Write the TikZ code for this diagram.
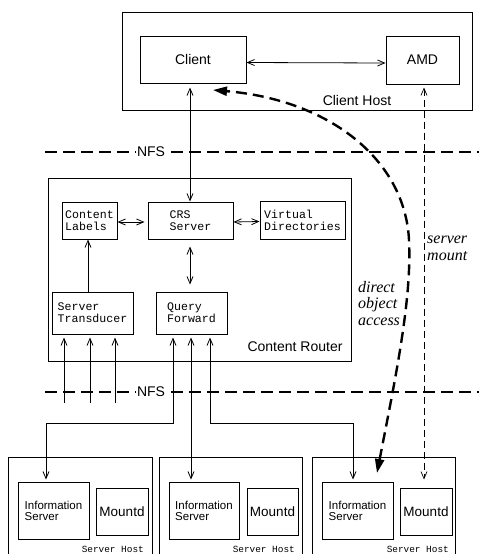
\documentclass[tikz,border=0pt]{standalone}
\usepackage{fontspec}
\setmainfont{Liberation Sans}
\setmonofont{Liberation Mono}
\newfontfamily\tmsfont{Liberation Serif}
\usetikzlibrary{arrows.meta}

\begin{document}
\begin{tikzpicture}[x=1pt,y=-1pt,
  >={Straight Barb[length=7pt,width=6pt]},
  hostbox/.style={draw, line width=0.8pt, inner sep=0pt},
  box/.style={draw, line width=1pt, inner sep=0pt, align=left},
  sbox/.style={box, font=\fontsize{14}{15}\selectfont},
  ibox/.style={box, font=\fontsize{11.5}{11}\selectfont},
  mbox/.style={box, font=\fontsize{11.6}{12}\selectfont\ttfamily},
  lbl/.style={inner sep=0pt, font=\fontsize{14}{15}\selectfont},
  shl/.style={inner sep=0pt, anchor=east, font=\fontsize{9.4}{10}\selectfont\ttfamily},
  ital/.style={inner sep=0pt, anchor=west, align=left, font=\fontsize{16}{16.5}\selectfont\tmsfont\itshape},
  arr/.style={line width=0.8pt},
  nfs/.style={line width=2.6pt, dash pattern=on 12pt off 6pt},
  direct/.style={line width=2.4pt, dash pattern=on 11pt off 6pt, {Triangle[length=14pt,width=9pt]}-{Triangle[length=14pt,width=9pt]}},
  mountline/.style={line width=0.7pt, dash pattern=on 7pt off 4pt}
]
\useasboundingbox (0,0) rectangle (479,554);
\clip (0,0) rectangle (479,554);

% Client host
\node[hostbox, minimum width=350pt, minimum height=98pt] (chost) at (297,61) {};
\node[sbox, minimum width=106pt, minimum height=47pt] (client) at (193,59.5) {Client};
\node[sbox, minimum width=73pt, minimum height=48pt] (amd) at (422.5,60) {AMD};
\node[lbl] (chostlbl) at (357,100) {Client Host};

% NFS lines
\coordinate (nfs1a) at (45,152);
\coordinate (nfs1b) at (479,152);
\coordinate (nfs2a) at (45,392);
\coordinate (nfs2b) at (479,392);
\draw[nfs] (nfs1a) -- (nfs1b);
\draw[nfs] (nfs2a) -- (nfs2b);
\node[lbl, fill=white, inner sep=1.5pt] (nfs1) at (151,152) {NFS};
\node[lbl, fill=white, inner sep=1.5pt] (nfs2) at (151,392) {NFS};

% Content router
\node[hostbox, minimum width=303pt, minimum height=183pt] (crouter) at (199.5,269.5) {};
\node[lbl] (crlbl) at (295,347) {Content Router};
\node[mbox, minimum width=55pt, minimum height=37pt] (clabels) at (89.5,220.5) {Content\\Labels};
\node[mbox, minimum width=85pt, minimum height=37pt] (crs) at (190.5,220.5) {CRS\\Server};
\node[mbox, minimum width=85pt, minimum height=38pt] (vdirs) at (302.5,220) {Virtual\\Directories};
\node[mbox, minimum width=81pt, minimum height=42pt] (strans) at (92.5,313) {Server\\Transducer};
\node[mbox, minimum width=71pt, minimum height=42pt] (qfwd) at (191.5,313) {Query\\Forward};

% Server hosts
\node[hostbox, minimum width=144pt, minimum height=113pt] (sh1) at (80,513.5) {};
\node[hostbox, minimum width=143pt, minimum height=113pt] (sh2) at (230.5,513.5) {};
\node[hostbox, minimum width=143pt, minimum height=113pt] (sh3) at (383.5,513.5) {};
\node[ibox, minimum width=71pt, minimum height=57pt] (is1) at (53.5,510.5) {Information\\Server};
\node[ibox, minimum width=70pt, minimum height=57pt] (is2) at (204,510.5) {Information\\Server};
\node[ibox, minimum width=71pt, minimum height=57pt] (is3) at (357.5,510.5) {Information\\Server};
\node[sbox, font=\fontsize{13.5}{14}\selectfont, minimum width=52pt, minimum height=47pt] (m1) at (122,511.5) {Mountd};
\node[sbox, font=\fontsize{13.5}{14}\selectfont, minimum width=51pt, minimum height=47pt] (m2) at (272.5,511.5) {Mountd};
\node[sbox, font=\fontsize{13.5}{14}\selectfont, minimum width=52pt, minimum height=47pt] (m3) at (426,511.5) {Mountd};
\node[shl] (shl1) at (144,549) {Server Host};
\node[shl] (shl2) at (295,549) {Server Host};
\node[shl] (shl3) at (449,549) {Server Host};

% connectors
\draw[arr, <->] ([yshift=-3pt]client.east) -- ([yshift=-3pt]amd.west);
\coordinate (cx) at (190,150);
\draw[arr, <->, shorten >=4pt] (crs.north -| cx) -- (client.south -| cx);
\draw[arr, <->, shorten >=3pt] ([yshift=-1.5pt]clabels.east) -- ([yshift=-1.5pt]crs.west);
\draw[arr, <->] ([yshift=-1.5pt]crs.east) -- ([yshift=-1.5pt]vdirs.west);
\draw[arr, <->, shorten >=7pt, shorten <=7pt] (crs.south -| cx) -- (qfwd.north -| cx);
\coordinate (lx) at (88,260);
\draw[arr, ->] (strans.north -| lx) -- (clabels.south -| lx);

% transducer inputs
\coordinate (t1) at (64,403);
\coordinate (t2) at (90,403);
\coordinate (t3) at (115,403);
\draw[arr, ->, shorten >=3pt] (t1) -- (strans.south -| t1);
\draw[arr, ->, shorten >=3pt] (t2) -- (strans.south -| t2);
\draw[arr, ->, shorten >=3pt] (t3) -- (strans.south -| t3);

% query forward outputs
\coordinate (q1a) at (173,423);
\coordinate (q1b) at (46,423);
\coordinate (q2) at (191,423);
\coordinate (q3a) at (210,423);
\coordinate (q3b) at (353,423);
\draw[arr, <->, shorten <=3pt, shorten >=2pt] (qfwd.south -| q1a) -- (q1a) -- (q1b) -- (is1.north -| q1b);
\draw[arr, <->, shorten <=3pt, shorten >=2pt] (qfwd.south -| q2) -- (is2.north -| q2);
\draw[arr, <->, shorten <=3pt, shorten >=2pt] (qfwd.south -| q3a) -- (q3a) -- (q3b) -- (is3.north -| q3b);

% server mount
\coordinate (smx) at (424,300);
\draw[mountline, <->, shorten <=3pt, shorten >=8pt] (amd.south -| smx) -- (m3.north -| smx);
\node[ital] (smlbl) at (427,248.5) {server\\mount};

% direct object access
\coordinate (da1) at (377,473);
\coordinate (da2) at (213,90);
\draw[direct] (da1) .. controls (395,380) and (412,300) .. (409,240) .. controls (405,160) and (330,100) .. (da2);
\node[ital] (dalbl) at (358,303.5) {direct\\object\\access};
\end{tikzpicture}
\end{document}
